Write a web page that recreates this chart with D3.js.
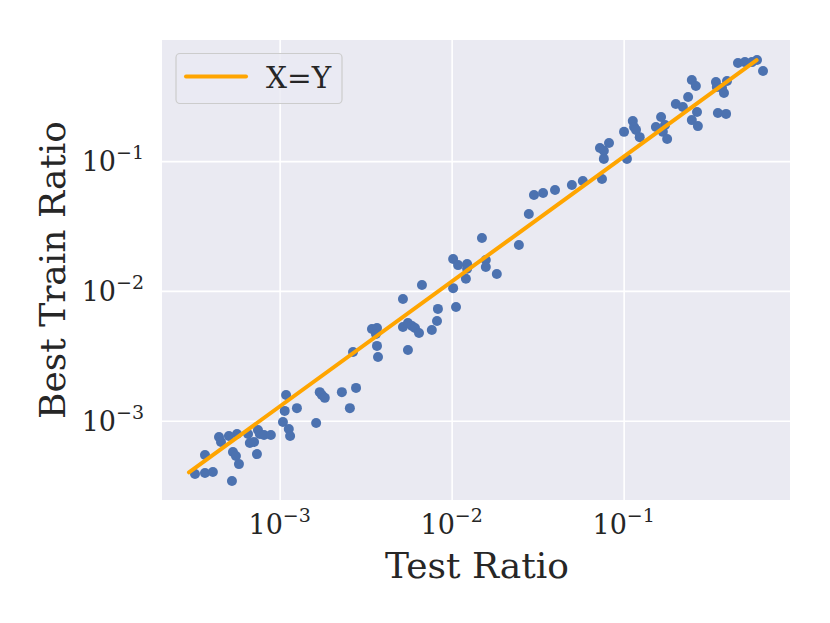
<html lang="en">
<head>
<meta charset="UTF-8">
<title>Best Train Ratio vs Test Ratio</title>
<script src="https://cdn.jsdelivr.net/npm/d3@7"></script>
<style>
  body { margin: 0; background: #fff; }
  text { font-family: "DejaVu Serif", serif; fill: #262626; }
</style>
</head>
<body>
<div id="chart"></div>
<script>
// values
const testRatio = [
  3.22e-4, 3.68e-4, 4.09e-4, 5.28e-4, 3.68e-4, 4.44e-4, 4.56e-4, 5.07e-4, 5.65e-4, 5.35e-4,
  5.57e-4, 5.80e-4, 6.55e-4, 6.71e-4, 7.10e-4, 7.38e-4, 7.48e-4, 7.67e-4, 8.11e-4, 8.89e-4,
  1.09e-3, 1.07e-3, 1.26e-3, 1.045e-3, 1.13e-3, 1.15e-3, 1.63e-3, 1.71e-3, 1.76e-3, 1.83e-3,
  2.30e-3, 2.56e-3, 2.78e-3, 2.67e-3, 3.44e-3, 3.68e-3, 3.63e-3, 3.68e-3, 3.73e-3, 5.21e-3,
  6.72e-3, 5.21e-3, 5.57e-3, 5.88e-3, 6.12e-3, 6.46e-3, 5.57e-3, 7.67e-3, 8.22e-3, 8.32e-3,
  1.02e-2, 1.06e-2, 1.21e-2, 1.02e-2, 1.09e-2, 1.23e-2, 1.23e-2, 1.50e-2, 1.58e-2, 1.58e-2,
  1.83e-2, 2.46e-2, 2.81e-2, 3.01e-2, 3.40e-2, 3.99e-2, 5.00e-2, 5.79e-2, 7.48e-2, 7.28e-2,
  7.67e-2, 8.22e-2, 7.67e-2, 0.1005, 0.113, 0.115, 0.118, 0.124, 0.1045, 0.154,
  0.165, 0.174, 0.169, 0.179, 0.201, 0.221, 0.237, 0.249, 0.263, 0.267,
  0.249, 0.270, 0.344, 0.348, 0.373, 0.383, 0.399, 0.353, 0.394, 0.462,
  0.507, 0.557, 0.596, 0.646
];
const bestTrainRatio = [
  3.88e-4, 3.95e-4, 4.03e-4, 3.43e-4, 5.45e-4, 7.48e-4, 6.85e-4, 7.62e-4, 7.91e-4, 5.74e-4,
  5.35e-4, 4.63e-4, 7.91e-4, 6.73e-4, 6.85e-4, 5.53e-4, 8.47e-4, 7.91e-4, 7.76e-4, 7.76e-4,
  1.58e-3, 1.19e-3, 1.25e-3, 9.77e-4, 8.63e-4, 7.62e-4, 9.60e-4, 1.66e-3, 1.58e-3, 1.50e-3,
  1.66e-3, 1.25e-3, 1.79e-3, 3.38e-3, 5.08e-3, 5.18e-3, 4.66e-3, 3.77e-3, 3.10e-3, 8.67e-3,
  1.11e-2, 5.27e-3, 5.66e-3, 5.37e-3, 5.18e-3, 4.74e-3, 3.51e-3, 5.00e-3, 5.86e-3, 7.27e-3,
  1.05e-2, 7.52e-3, 1.24e-2, 1.76e-2, 1.58e-2, 1.61e-2, 1.48e-2, 2.56e-2, 1.73e-2, 1.53e-2,
  1.35e-2, 2.26e-2, 3.91e-2, 5.48e-2, 5.68e-2, 5.98e-2, 6.55e-2, 7.03e-2, 7.28e-2, 0.126,
  0.120, 0.138, 0.104, 0.168, 0.204, 0.183, 0.174, 0.153, 0.104, 0.183,
  0.219, 0.190, 0.168, 0.148, 0.275, 0.261, 0.312, 0.422, 0.379, 0.239,
  0.207, 0.186, 0.406, 0.372, 0.366, 0.335, 0.414, 0.235, 0.231, 0.570,
  0.579, 0.579, 0.601, 0.494
];
// the orange reference line, as drawn
const lineX = [2.97e-4, 0.593];
const lineY = [4.0e-4, 0.600];

const tickValues = [1e-3, 1e-2, 1e-1];
const tickExponents = ["\u22123", "\u22122", "\u22121"];

const width = 830, height = 623;
const plotLeft = 162, plotRight = 790, plotTop = 40, plotBottom = 500;

const svg = d3.select("#chart")
  .append("svg")
  .attr("width", width)
  .attr("height", height);

const x = d3.scaleLog().domain([2.07e-4, 0.927]).range([plotLeft, plotRight]);
const y = d3.scaleLog().domain([2.45e-4, 0.857]).range([plotBottom, plotTop]);

svg.append("rect")
  .attr("x", plotLeft).attr("y", plotTop)
  .attr("width", plotRight - plotLeft).attr("height", plotBottom - plotTop)
  .attr("fill", "#eaeaf2");

// grid (seaborn darkgrid look, no tick marks)
const xAxis = d3.axisBottom(x).tickValues(tickValues).tickSize(-(plotBottom - plotTop)).tickFormat("");
const yAxis = d3.axisLeft(y).tickValues(tickValues).tickSize(-(plotRight - plotLeft)).tickFormat("");

svg.append("g")
  .attr("transform", `translate(0,${plotBottom})`)
  .call(xAxis)
  .call(g => g.select(".domain").remove())
  .call(g => g.selectAll(".tick line").attr("stroke", "#fff").attr("stroke-width", 1.6));

svg.append("g")
  .attr("transform", `translate(${plotLeft},0)`)
  .call(yAxis)
  .call(g => g.select(".domain").remove())
  .call(g => g.selectAll(".tick line").attr("stroke", "#fff").attr("stroke-width", 1.6));

// tick labels written as 10 with a superscript
function powerLabel(sel, exp) {
  sel.append("tspan").attr("font-size", 27).text("10");
  sel.append("tspan").attr("font-size", 19).attr("dy", -12).text(exp);
}

tickValues.forEach((v, i) => {
  svg.append("text")
    .attr("x", x(v))
    .attr("y", 534)
    .attr("text-anchor", "middle")
    .call(powerLabel, tickExponents[i]);

  svg.append("text")
    .attr("x", 144)
    .attr("y", y(v) + 10)
    .attr("text-anchor", "end")
    .call(powerLabel, tickExponents[i]);
});

svg.append("text")
  .attr("x", (plotLeft + plotRight) / 2 + 1)
  .attr("y", 578)
  .attr("text-anchor", "middle")
  .attr("font-size", 36)
  .text("Test Ratio");

svg.append("text")
  .attr("transform", `translate(65,${(plotTop + plotBottom) / 2}) rotate(-90)`)
  .attr("text-anchor", "middle")
  .attr("font-size", 36)
  .text("Best Train Ratio");

// points
const points = testRatio.map((v, i) => [v, bestTrainRatio[i]]);
svg.append("g")
  .selectAll("circle")
  .data(points)
  .join("circle")
  .attr("cx", d => x(d[0]))
  .attr("cy", d => y(d[1]))
  .attr("r", 5)
  .attr("fill", "#4c72b0");

// X=Y line
svg.append("path")
  .datum(lineX.map((v, i) => [v, lineY[i]]))
  .attr("d", d3.line().x(d => x(d[0])).y(d => y(d[1])))
  .attr("fill", "none")
  .attr("stroke", "#ffa500")
  .attr("stroke-width", 4)
  .attr("stroke-linecap", "round");

// legend
const legend = svg.append("g");
legend.append("rect")
  .attr("x", 176).attr("y", 53.5)
  .attr("width", 166).attr("height", 50)
  .attr("rx", 4)
  .attr("fill", "#eaeaf2")
  .attr("fill-opacity", 0.8)
  .attr("stroke", "#cccccc")
  .attr("stroke-width", 1.2);
legend.append("line")
  .attr("x1", 186).attr("x2", 246)
  .attr("y1", 76.5).attr("y2", 76.5)
  .attr("stroke", "#ffa500")
  .attr("stroke-width", 4)
  .attr("stroke-linecap", "round");
legend.append("text")
  .attr("x", 266)
  .attr("y", 88)
  .attr("font-size", 29.5)
  .text("X=Y");
</script>
</body>
</html>
